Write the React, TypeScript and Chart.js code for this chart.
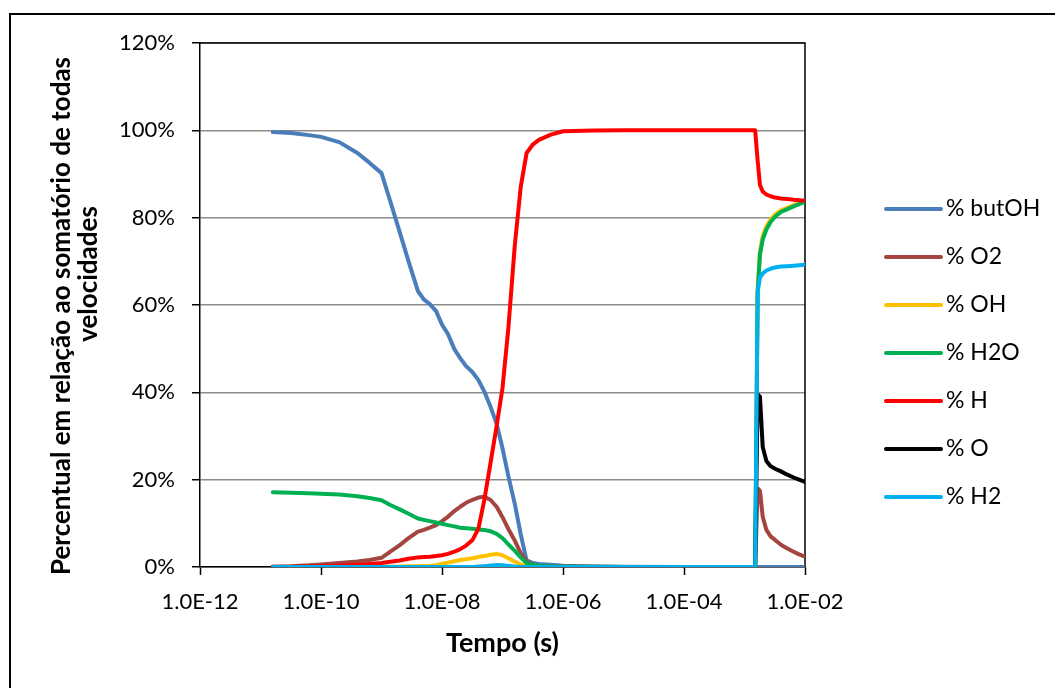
import React, { useEffect, useRef } from 'react';
import { Chart, registerables } from 'chart.js';

Chart.register(...registerables);

const FONT = 'Lato';

// Simulation time (s)
const times = [
  1.6e-11, 3.2e-11, 6.3e-11, 1e-10, 2e-10, 4e-10, 6.3e-10, 1e-9, 1.4e-9, 2e-9,
  2.8e-9, 4e-9, 5e-9, 6.3e-9, 8e-9, 1e-8, 1.25e-8, 1.6e-8, 2e-8, 2.5e-8,
  3.2e-8, 4e-8, 5e-8, 6.3e-8, 8e-8, 1e-7, 1.25e-7, 1.6e-7, 2e-7, 2.5e-7,
  3.2e-7, 4e-7, 6.3e-7, 1e-6, 3.2e-6, 1e-5, 1e-4, 1e-3, 1.5e-3, 1.65e-3,
  1.8e-3, 2e-3, 2.3e-3, 2.7e-3, 3.2e-3, 4e-3, 5e-3, 6.5e-3, 8e-3, 1e-2,
];

// Share of each species in the sum of all rates (%)
const butOH = [
  99.6, 99.4, 98.9, 98.5, 97.3, 94.8, 92.6, 90.2, 83.7, 76.7,
  70.0, 63.2, 61.3, 60.2, 58.6, 55.5, 53.4, 49.9, 47.8, 46.0,
  44.6, 42.8, 40.2, 36.8, 32.8, 27.2, 20.8, 14.4, 7.5, 1.5,
  0.9, 0.7, 0.5, 0.3, 0.1, 0.05, 0, 0, 0, 0,
  0, 0, 0, 0, 0, 0, 0, 0, 0, 0,
];
const o2 = [
  0.1, 0.2, 0.4, 0.6, 0.9, 1.25, 1.6, 2.1, 3.5, 5.0,
  6.6, 8.1, 8.5, 9.0, 9.6, 10.5, 11.5, 12.8, 13.8, 14.7,
  15.4, 15.9, 16.1, 15.4, 13.8, 11.4, 8.7, 6.0, 3.2, 1.2,
  0.5, 0.3, 0.15, 0.1, 0.05, 0, 0, 0, 0, 18,
  17.5, 11.5, 8.5, 7.0, 6.2, 5.1, 4.3, 3.5, 2.9, 2.4,
];
const oh = [
  0, 0, 0, 0, 0, 0, 0.02, 0.05, 0.08, 0.1,
  0.15, 0.2, 0.25, 0.3, 0.4, 0.7, 1.0, 1.3, 1.6, 1.8,
  2.0, 2.3, 2.5, 2.8, 3.0, 2.7, 2.0, 1.2, 0.6, 0.2,
  0.1, 0.05, 0, 0, 0, 0, 0, 0, 0, 63.5,
  72.3, 75.8, 78.0, 79.6, 80.7, 81.7, 82.2, 82.9, 83.4, 83.8,
];
const h2o = [
  17.1, 17.0, 16.9, 16.8, 16.6, 16.2, 15.8, 15.3, 14.2, 13.2,
  12.2, 11.1, 10.8, 10.5, 10.2, 9.9, 9.6, 9.3, 9.0, 8.9,
  8.75, 8.6, 8.5, 8.2, 7.6, 6.6, 5.2, 3.7, 2.2, 0.9,
  0.5, 0.3, 0.15, 0.1, 0.05, 0, 0, 0, 0, 63,
  71.5, 75.0, 77.3, 79.0, 80.2, 81.3, 81.9, 82.6, 83.1, 83.6,
];
const h = [
  0, 0.05, 0.1, 0.15, 0.3, 0.5, 0.7, 0.9, 1.2, 1.5,
  1.9, 2.2, 2.3, 2.35, 2.5, 2.7, 3.0, 3.5, 4.1, 4.9,
  6.2, 8.8, 15.3, 23.6, 32.3, 41.0, 54.7, 73.8, 87.0, 94.8,
  96.8, 97.8, 99.0, 99.8, 99.95, 100, 100, 100, 100, 93,
  87.5, 86.0, 85.3, 84.9, 84.6, 84.4, 84.3, 84.1, 84.0, 83.9,
];
const o = [
  0, 0, 0, 0, 0, 0, 0, 0, 0, 0,
  0, 0, 0, 0, 0, 0, 0, 0, 0, 0,
  0, 0, 0.05, 0.1, 0.1, 0.1, 0.05, 0, 0, 0,
  0, 0, 0, 0, 0, 0, 0, 0, 0, 39.5,
  39.0, 27.5, 24.3, 23.1, 22.5, 21.9, 21.2, 20.5, 20.0, 19.5,
];
const h2 = [
  0, 0, 0, 0, 0, 0, 0, 0, 0, 0,
  0, 0, 0, 0, 0, 0, 0, 0, 0, 0,
  0, 0.1, 0.2, 0.35, 0.45, 0.4, 0.25, 0.1, 0, 0,
  0, 0, 0, 0, 0, 0, 0, 0, 0, 63,
  66.3, 67.2, 67.9, 68.3, 68.6, 68.8, 68.9, 69.0, 69.1, 69.2,
];

const seriesLabels = ['% butOH', '% O2', '% OH', '% H2O', '% H', '% O', '% H2'];
const seriesValues = [butOH, o2, oh, h2o, h, o, h2];
const seriesColors = ['#4A7EBB', '#A4453F', '#FFC000', '#00B050', '#FF0000', '#000000', '#00B0F0'];

const xTickValues = [1e-12, 1e-10, 1e-8, 1e-6, 1e-4, 1e-2];
const yTitleLines = ['Percentual em relação ao somatório de todas', 'velocidades'];
const xTitle = 'Tempo (s)';

function formatSci(v: number): string {
  const exp = Math.round(Math.log10(v));
  const mant = v / Math.pow(10, exp);
  const sign = exp < 0 ? '-' : '+';
  const abs = Math.abs(exp);
  return `${mant.toFixed(1)}E${sign}${abs < 10 ? '0' + abs : abs}`;
}

// Legend drawn as line samples to the right of the plot area
const sideLegend = {
  id: 'sideLegend',
  afterDraw(chart: any) {
    const { ctx, chartArea } = chart;
    ctx.save();
    ctx.font = `23px ${FONT}`;
    ctx.textBaseline = 'middle';
    ctx.textAlign = 'left';
    chart.data.datasets.forEach((ds: any, i: number) => {
      const y = chartArea.top + 166 + i * 48;
      const x0 = chartArea.right + 81;
      ctx.strokeStyle = ds.borderColor;
      ctx.lineWidth = 4;
      ctx.lineCap = 'round';
      ctx.beginPath();
      ctx.moveTo(x0, y);
      ctx.lineTo(x0 + 55, y);
      ctx.stroke();
      ctx.fillStyle = '#000';
      ctx.fillText(ds.label, x0 + 60, y);
    });
    ctx.restore();
  },
};

// Top and right edges of the plot area
const plotFrame = {
  id: 'plotFrame',
  beforeDatasetsDraw(chart: any) {
    const { ctx, chartArea } = chart;
    ctx.save();
    ctx.strokeStyle = '#000';
    ctx.lineWidth = 1.5;
    ctx.beginPath();
    ctx.moveTo(chartArea.left, chartArea.top);
    ctx.lineTo(chartArea.right, chartArea.top);
    ctx.lineTo(chartArea.right, chartArea.bottom);
    ctx.stroke();
    ctx.restore();
  },
};

// Rotated two-line title of the value axis
const yAxisTitle = {
  id: 'yAxisTitle',
  afterDraw(chart: any) {
    const { ctx, chartArea } = chart;
    ctx.save();
    ctx.font = `bold 26px ${FONT}`;
    ctx.fillStyle = '#000';
    ctx.textAlign = 'center';
    ctx.textBaseline = 'middle';
    const pos = [
      { x: chartArea.left - 138, y: 316 },
      { x: chartArea.left - 111, y: 274 },
    ];
    yTitleLines.forEach((line, i) => {
      ctx.save();
      ctx.translate(pos[i].x, pos[i].y);
      ctx.rotate(-Math.PI / 2);
      ctx.fillText(line, 0, 0);
      ctx.restore();
    });
    ctx.restore();
  },
};

export default function App() {
  const canvasRef = useRef<HTMLCanvasElement | null>(null);

  useEffect(() => {
    const canvas = canvasRef.current;
    if (!canvas) return;
    const n = seriesLabels.length;
    const chart = new Chart(canvas, {
      type: 'line',
      data: {
        datasets: seriesLabels.map((label, i) => ({
          label,
          data: times.map((t, k) => ({ x: t, y: seriesValues[i][k] })),
          borderColor: seriesColors[i],
          backgroundColor: seriesColors[i],
          borderWidth: 4,
          pointRadius: 0,
          fill: false,
          tension: 0,
          borderCapStyle: 'round',
          borderJoinStyle: 'round',
          order: n - i,
        })),
      },
      options: {
        responsive: false,
        maintainAspectRatio: false,
        animation: false,
        devicePixelRatio: 1,
        layout: { padding: { top: 43, right: 250, bottom: 0, left: 0 } },
        plugins: {
          legend: { display: false },
          tooltip: { enabled: false },
        },
        scales: {
          x: {
            type: 'logarithmic',
            min: 1e-12,
            max: 1e-2,
            afterBuildTicks: (s: any) => {
              s.ticks = xTickValues.map((v) => ({ value: v }));
            },
            afterFit: (s: any) => {
              s.height = 121;
            },
            grid: {
              drawOnChartArea: false,
              drawTicks: true,
              tickLength: 8,
              tickColor: '#000',
              tickWidth: 1.5,
            },
            border: { color: '#000', width: 1.5 },
            ticks: {
              callback: (v: any) => formatSci(Number(v)),
              font: { family: FONT, size: 22 },
              color: '#000',
              padding: 14,
              maxRotation: 0,
              autoSkip: false,
            },
            title: {
              display: true,
              text: xTitle,
              font: { family: FONT, size: 27, weight: 'bold' },
              color: '#000',
              padding: { top: 0, bottom: 29 },
            },
          },
          y: {
            min: 0,
            max: 120,
            afterFit: (s: any) => {
              s.width = 200;
            },
            ticks: {
              stepSize: 20,
              callback: (v: any) => `${v}%`,
              font: { family: FONT, size: 22 },
              color: '#000',
              padding: 17,
            },
            grid: {
              color: '#8c8c8c',
              lineWidth: 1.5,
              tickColor: '#000',
              tickLength: 8,
              tickWidth: 1.5,
            },
            border: { color: '#000', width: 1.5 },
          },
        },
      } as any,
      plugins: [plotFrame, sideLegend, yAxisTitle],
    });
    return () => chart.destroy();
  }, []);

  return (
    <div
      style={{
        position: 'fixed',
        left: 0,
        top: 0,
        width: 1055,
        height: 688,
        overflow: 'hidden',
        background: '#fff',
      }}
    >
      <canvas
        ref={canvasRef}
        width={1055}
        height={688}
        style={{ position: 'absolute', left: 0, top: 0 }}
      />
      <div
        style={{
          position: 'absolute',
          left: 9,
          top: 13,
          width: 1200,
          height: 800,
          border: '2px solid #000',
          pointerEvents: 'none',
        }}
      />
    </div>
  );
}
